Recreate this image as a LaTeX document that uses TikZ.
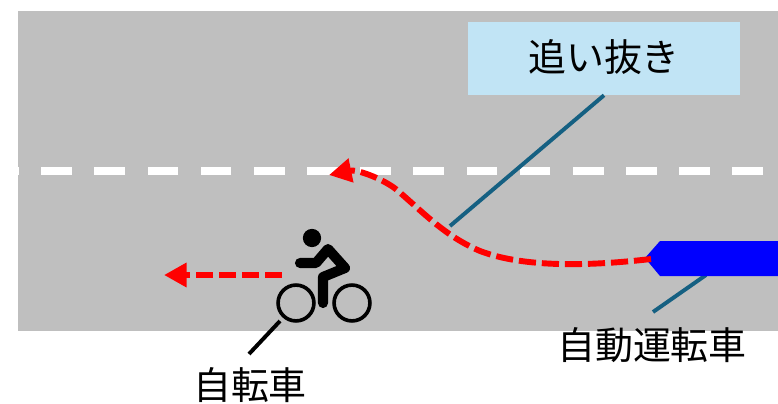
\documentclass[tikz,border=0pt]{standalone}
\usepackage{fontspec}
\usepackage{tikz}
\usetikzlibrary{arrows.meta}
\setmainfont{Noto Sans CJK JP}
\definecolor{road}{HTML}{BFBFBF}
\definecolor{labelbg}{HTML}{C1E4F5}
\definecolor{leader}{HTML}{156082}
\tikzset{
	label/.style={font=\fontsize{27}{30}\selectfont,inner sep=0pt},
	leaderline/.style={draw=leader,line width=2.8pt},
	route/.style={draw=red,line width=4.2pt,dash pattern=on 12.2pt off 4.2pt,-{Triangle[length=16pt,width=16.5pt]}},
	wheel/.style={shape=circle,draw=black,line width=2.6pt,minimum size=25.5pt,inner sep=0pt},
	rider/.style={draw=black,line width=7.2pt,line cap=round,line join=round}
}
\begin{document}
\begin{tikzpicture}[x=0.025cm,y=-0.025cm]
	
	\useasboundingbox (0,0) rectangle (778,403);
	\fill[road] (18,11) rectangle (778,331);
	\draw[white,line width=5pt,dash pattern=on 21.8pt off 16pt] (763,171) -- (18,171);
	
	\node[label,fill=labelbg,minimum width=6.8cm,minimum height=1.825cm] (overtake) at (604,58.5) {\raisebox{4pt}{追い抜き}};
	\node[label] (carlabel) at (652,345) {自動運転車};
	\node[label] (bikelabel) at (250,385) {自転車};
	
	\coordinate (passend) at (450,226);
	\coordinate (carend) at (653,312);
	\coordinate (carfoot) at (706,275);
	\coordinate (bikefoot) at (249,354);
	\coordinate (bikeend) at (280,321);
	\coordinate (carnose) at (651,259);
	\coordinate (passtip) at (329,175);
	\coordinate (biketail) at (282,275);
	\coordinate (biketip) at (164,275);
	
	\path[leaderline] (overtake.south) -- (passend);
	\path[leaderline] (carfoot) -- (carend);
	\draw[black,line width=2.8pt] (bikeend) -- (bikefoot);
	
	\fill[blue] (645,258) -- (660,241) -- (778,241) -- (778,276) -- (660,276) -- cycle;
	
	\path[route] (carnose) .. controls (590,266) and (525,268) .. (480,251) .. controls (445,236) and (425,214) .. (397,190) .. controls (385,180) and (358,169) .. (passtip);
	\path[route] (biketail) -- (biketip);
	
	\node[wheel] (frontwheel) at (296,303) {};
	\node[wheel] (rearwheel) at (352,303) {};
	\node[shape=circle,fill=black,minimum size=13pt,inner sep=0pt] (head) at (312,238) {};
	\draw[rider] (300,263) -- (316,263) -- (328,249) -- (345,268) -- (323,277) -- (323,303);
	
\end{tikzpicture}
\end{document}
